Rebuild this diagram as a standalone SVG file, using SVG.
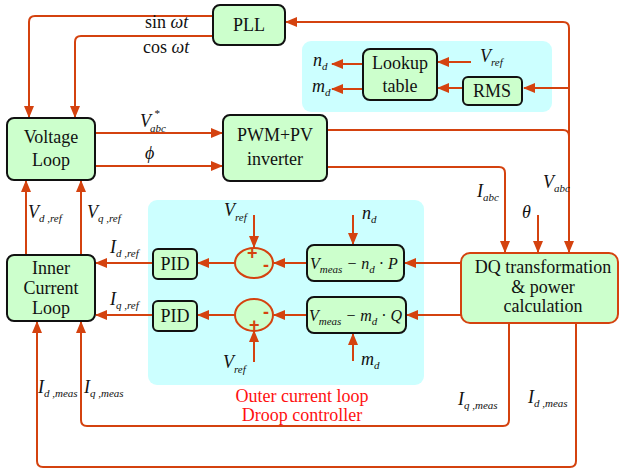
<svg xmlns="http://www.w3.org/2000/svg" width="621" height="473" viewBox="0 0 621 473">
<style>
.bx{fill:#CCFFCC;stroke:#111;stroke-width:2}
.dq{fill:#CCFFCC;stroke:#D4420F;stroke-width:2}
.bg{fill:#CCFFFF;stroke:none}
.ar{fill:none;stroke:#D4420F;stroke-width:2;marker-end:url(#ah)}
.t{font-family:"Liberation Serif","Times New Roman",serif;font-size:18px;fill:#111}
.c{text-anchor:middle}
.i{font-style:italic}
.s{font-family:"Liberation Serif","Times New Roman",serif;font-size:11px;font-style:italic;fill:#111}
.red{fill:#FF1010}
.sg{font-family:"Liberation Sans",Arial,sans-serif;font-size:18px;fill:#D4420F;font-weight:bold}
.eq{font-size:16px}
</style>
<defs>
<marker id="ah" markerUnits="userSpaceOnUse" markerWidth="12" markerHeight="10" refX="11" refY="5" orient="auto">
<path d="M0,0 L12,5 L0,10 Z" fill="#D4420F"/>
</marker>
</defs>
<rect class="bg" x="302" y="41" width="250" height="71" rx="9"/>
<rect class="bg" x="148" y="200" width="276" height="185" rx="9"/>
<g id="connectors">
<path class="ar" d="M213 16 H35 Q29 16 29 22 V117"/>
<path class="ar" d="M213 36 H81 Q75 36 75 42 V117"/>
<path class="ar" d="M95 133 H222"/>
<path class="ar" d="M95 166 H222"/>
<path class="ar" d="M327 130 H563 Q569 130 569 136 V252"/>
<path class="ar" d="M569 136 V28 Q569 22 563 22 H286"/>
<path class="ar" d="M569 88 H524"/>
<path class="ar" d="M471 62 H438"/>
<path class="ar" d="M463 88 H438"/>
<path class="ar" d="M363 64 H332"/>
<path class="ar" d="M363 89 H332"/>
<path class="ar" d="M327 167 H499 Q505 167 505 173 V252"/>
<path class="ar" d="M538 215 V252"/>
<path class="ar" d="M26 255 V181"/>
<path class="ar" d="M81 255 V181"/>
<path class="ar" d="M153 263 H96"/>
<path class="ar" d="M153 315 H96"/>
<path class="ar" d="M235 263 H198"/>
<path class="ar" d="M235 315 H198"/>
<path class="ar" d="M254 215 V247"/>
<path class="ar" d="M254 362 V331"/>
<path class="ar" d="M307 263 H274"/>
<path class="ar" d="M307 315 H274"/>
<path class="ar" d="M353 215 V244"/>
<path class="ar" d="M353 361 V334"/>
<path class="ar" d="M461 263 H405"/>
<path class="ar" d="M461 315 H407"/>
<path class="ar" d="M509 323 V420 Q509 426 503 426 H87 Q81 426 81 420 V322"/>
<path class="ar" d="M576 323 V461 Q576 467 570 467 H43 Q37 467 37 461 V322"/>
</g>
<g id="pll"><rect class="bx" x="213" y="5" width="72" height="40" rx="7"/><text class="t c" x="249" y="31">PLL</text></g>
<g id="voltage-loop"><rect class="bx" x="7" y="118" width="88" height="62" rx="7"/><text class="t c" x="51" y="143">Voltage</text><text class="t c" x="51" y="166">Loop</text></g>
<g id="pwm-inverter"><rect class="bx" x="223" y="115" width="104" height="66" rx="7"/><text class="t c" x="275" y="141">PWM+PV</text><text class="t c" x="275" y="165">inverter</text></g>
<g id="lookup-table"><rect class="bx" x="363" y="49" width="74" height="51" rx="7"/><text class="t c" x="400" y="69">Lookup</text><text class="t c" x="400" y="92">table</text></g>
<g id="rms"><rect class="bx" x="463" y="77" width="59" height="28" rx="5"/><text class="t c" x="492" y="97">RMS</text></g>
<g id="inner-current-loop"><rect class="bx" x="7" y="255" width="88" height="66" rx="7"/><text class="t c" x="51" y="274">Inner</text><text class="t c" x="51" y="294">Current</text><text class="t c" x="51" y="314">Loop</text></g>
<g id="pid-d"><rect class="bx" x="153" y="249" width="44" height="30" rx="5"/><text class="t c" x="175" y="270">PID</text></g>
<g id="pid-q"><rect class="bx" x="153" y="301" width="44" height="30" rx="5"/><text class="t c" x="175" y="322">PID</text></g>
<g id="sum-d"><ellipse cx="254" cy="263" rx="19" ry="15" fill="#CCFFCC" stroke="#D4420F" stroke-width="2"/><text class="sg" x="247" y="259">+</text><text class="sg" x="263" y="271">-</text></g>
<g id="sum-q"><ellipse cx="254" cy="315" rx="19" ry="16" fill="#CCFFCC" stroke="#D4420F" stroke-width="2"/><text class="sg" x="263" y="318">-</text><text class="sg" x="249" y="331">+</text></g>
<g id="droop-p"><rect class="bx" x="307" y="245" width="97" height="36" rx="7"/><text class="t i eq" x="310" y="269">V<tspan class="s" dy="4">meas</tspan><tspan dy="-4"> − n</tspan><tspan class="s" dy="4">d</tspan><tspan dy="-4" font-style="normal"> · </tspan>P</text></g>
<g id="droop-q"><rect class="bx" x="307" y="297" width="99" height="36" rx="7"/><text class="t i eq" x="309" y="321">V<tspan class="s" dy="4">meas</tspan><tspan dy="-4"> − m</tspan><tspan class="s" dy="4">d</tspan><tspan dy="-4" font-style="normal"> · </tspan>Q</text></g>
<g id="dq-transformation"><rect class="dq" x="461" y="253" width="157" height="70" rx="9"/><text class="t c" x="543" y="273">DQ transformation</text><text class="t c" x="543" y="293">&amp; power</text><text class="t c" x="543" y="312">calculation</text></g>
<g id="labels">
<text class="t" x="145" y="28">sin <tspan class="i">ωt</tspan></text>
<text class="t" x="143" y="53">cos <tspan class="i">ωt</tspan></text>
<text class="t i" x="140" y="127">V</text><text class="s" x="154" y="117">*</text><text class="s" x="150" y="132">abc</text>
<text class="t i" x="145" y="159">ϕ</text>
<text class="t i" x="313" y="66">n<tspan class="s" dy="4">d</tspan></text>
<text class="t i" x="312" y="92">m<tspan class="s" dy="4">d</tspan></text>
<text class="t i" x="480" y="62">V<tspan class="s" dy="4">ref</tspan></text>
<text class="t i" x="477" y="197">I<tspan class="s" dy="4">abc</tspan></text>
<text class="t i" x="543" y="188">V<tspan class="s" dy="4">abc</tspan></text>
<text class="t i" x="522" y="218">θ</text>
<text class="t i" x="28" y="218">V<tspan class="s" dy="4">d ,ref</tspan></text>
<text class="t i" x="87" y="218">V<tspan class="s" dy="4">q ,ref</tspan></text>
<text class="t i" x="110" y="253">I<tspan class="s" dy="4">d ,ref</tspan></text>
<text class="t i" x="110" y="305">I<tspan class="s" dy="4">q ,ref</tspan></text>
<text class="t i" x="224" y="216">V<tspan class="s" dy="5">ref</tspan></text>
<text class="t i" x="223" y="368">V<tspan class="s" dy="5">ref</tspan></text>
<text class="t i" x="362" y="219">n<tspan class="s" dy="4">d</tspan></text>
<text class="t i" x="361" y="365">m<tspan class="s" dy="4">d</tspan></text>
<text class="t i" x="38" y="393">I<tspan class="s" dy="4">d ,meas</tspan></text>
<text class="t i" x="84" y="393">I<tspan class="s" dy="4">q ,meas</tspan></text>
<text class="t i" x="458" y="405">I<tspan class="s" dy="4">q ,meas</tspan></text>
<text class="t i" x="528" y="403">I<tspan class="s" dy="4">d ,meas</tspan></text>
<text class="t c red" x="302" y="402">Outer current loop</text>
<text class="t c red" x="302" y="421">Droop controller</text>
</g>
</svg>
